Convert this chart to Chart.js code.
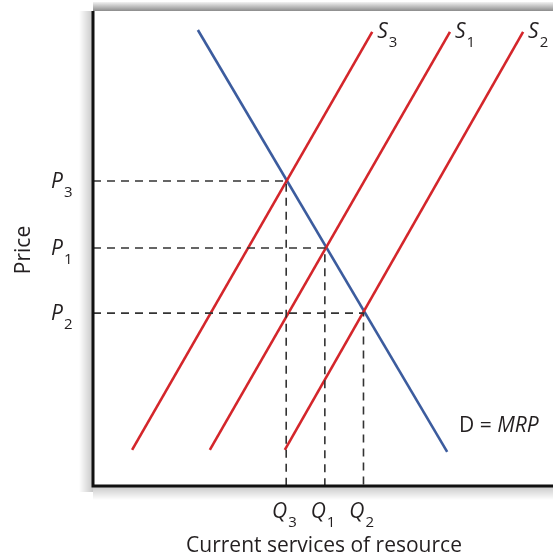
<!DOCTYPE html>
<html>
<head>
<meta charset="utf-8">
<script src="https://cdn.jsdelivr.net/npm/chart.js@4"></script>
<style>
  html, body { margin: 0; padding: 0; background: #fff; }
  #chart { display: block; }
</style>
</head>
<body>
<canvas id="chart" width="553" height="557"></canvas>
<script>
// values (units: 0-100 on both axes)
const demandX = [22.8, 77.0];
const demandY = [96.0, 7.2];

const supplyNames = ['3', '1', '2'];          // S3, S1, S2
const supplyLowX = [8.5, 25.4, 41.7];
const supplyHighX = [60.7, 77.6, 93.5];
const supplyLowY = 7.6;
const supplyHighY = 95.6;

const eqNames = ['3', '1', '2'];              // P3/Q3, P1/Q1, P2/Q2
const priceLevels = [64.2, 50.1, 36.4];
const quantityLevels = [42.0, 50.4, 58.8];

const xTitle = 'Current services of resource';
const yTitle = 'Price';
const demandLabel = ['D = ', 'MRP'];

const RED = '#d4262b';
const BLUE = '#3c5c9e';
const INK = '#231f20';
const FONT = '"Open Sans", "Noto Sans", sans-serif';

const datasets = [];

// dashed guide lines
priceLevels.forEach((p, i) => {
    datasets.push({
        data: [{ x: 0, y: p }, { x: quantityLevels[i], y: p }, { x: quantityLevels[i], y: 0 }],
        borderColor: '#333',
        borderWidth: 1.6,
        borderDash: [8, 6],
        pointRadius: 0,
        showLine: true,
        fill: false
    });
});

// supply curves
supplyNames.forEach((n, i) => {
    datasets.push({
        data: [{ x: supplyLowX[i], y: supplyLowY }, { x: supplyHighX[i], y: supplyHighY }],
        borderColor: RED,
        borderWidth: 2.6,
        pointRadius: 0,
        showLine: true
    });
});

// demand curve
datasets.push({
    data: [{ x: demandX[0], y: demandY[0] }, { x: demandX[1], y: demandY[1] }],
    borderColor: BLUE,
    borderWidth: 2.6,
    pointRadius: 0,
    showLine: true
});

function subText(ctx, main, sub, x, y, size, italic) {
    ctx.font = (italic ? 'italic ' : '') + size + 'px ' + FONT;
    ctx.textAlign = 'left';
    ctx.textBaseline = 'alphabetic';
    ctx.fillText(main, x, y);
    const w = ctx.measureText(main).width;
    ctx.font = Math.round(size * 0.72) + 'px ' + FONT;
    ctx.fillText(sub, x + w + 1, y + 9);
    return w;
}

const framePlugin = {
    id: 'frame',
    beforeDatasetsDraw(chart) {
        const ctx = chart.ctx;
        const a = chart.chartArea;
        ctx.save();
        // top shadow band
        let g = ctx.createLinearGradient(0, a.top - 9, 0, a.top);
        g.addColorStop(0, '#f2f2f2');
        g.addColorStop(1, '#8c8c8c');
        ctx.fillStyle = g;
        ctx.fillRect(a.left, a.top - 9, a.right - a.left, 9);
        // left shadow
        g = ctx.createLinearGradient(a.left - 14, 0, a.left, 0);
        g.addColorStop(0, 'rgba(0,0,0,0)');
        g.addColorStop(1, 'rgba(0,0,0,0.22)');
        ctx.fillStyle = g;
        ctx.fillRect(a.left - 14, a.top, 14, a.bottom - a.top + 6);
        // bottom shadow
        g = ctx.createLinearGradient(0, a.bottom, 0, a.bottom + 14);
        g.addColorStop(0, 'rgba(0,0,0,0.22)');
        g.addColorStop(1, 'rgba(0,0,0,0)');
        ctx.fillStyle = g;
        ctx.fillRect(a.left, a.bottom, a.right - a.left, 14);
        ctx.restore();
    },
    afterDatasetsDraw(chart) {
        const ctx = chart.ctx;
        const a = chart.chartArea;
        const xs = chart.scales.x, ys = chart.scales.y;
        ctx.save();
        // axes
        ctx.strokeStyle = '#111';
        ctx.lineWidth = 3;
        ctx.beginPath();
        ctx.moveTo(a.left, a.top);
        ctx.lineTo(a.left, a.bottom);
        ctx.lineTo(a.right, a.bottom);
        ctx.stroke();

        ctx.fillStyle = INK;
        // P labels
        priceLevels.forEach((p, i) => {
            const py = ys.getPixelForValue(p);
            subText(ctx, 'P', eqNames[i], 51, py + 7, 21, true);
        });
        // Q labels
        quantityLevels.forEach((q, i) => {
            const px = xs.getPixelForValue(q);
            ctx.font = 'italic 21px ' + FONT;
            const w = ctx.measureText('Q').width;
            subText(ctx, 'Q', eqNames[i], px - w + 1, 518, 21, true);
        });
        // S labels
        supplyNames.forEach((n, i) => {
            const px = xs.getPixelForValue(supplyHighX[i]);
            const py = ys.getPixelForValue(supplyHighY);
            subText(ctx, 'S', n, px + 5, py + 6, 21, true);
        });
        // D = MRP
        ctx.font = '21px ' + FONT;
        ctx.textAlign = 'left';
        ctx.fillText(demandLabel[0], 459, 432);
        const dw = ctx.measureText(demandLabel[0]).width;
        ctx.font = 'italic 21px ' + FONT;
        ctx.fillText(demandLabel[1], 459 + dw, 432);
        // axis titles
        ctx.font = '21px ' + FONT;
        ctx.textAlign = 'center';
        ctx.fillText(xTitle, 324, 552);
        ctx.translate(30, 250);
        ctx.rotate(-Math.PI / 2);
        ctx.fillText(yTitle, 0, 0);
        ctx.restore();
    }
};

new Chart(document.getElementById('chart').getContext('2d'), {
    type: 'scatter',
    data: { datasets },
    options: {
        responsive: false,
        animation: false,
        layout: { padding: { left: 93, top: 11, right: 0, bottom: 71 } },
        plugins: { legend: { display: false }, tooltip: { enabled: false } },
        scales: {
            x: { type: 'linear', min: 0, max: 100, display: false },
            y: { type: 'linear', min: 0, max: 100, display: false }
        }
    },
    plugins: [framePlugin]
});
</script>
</body>
</html>
